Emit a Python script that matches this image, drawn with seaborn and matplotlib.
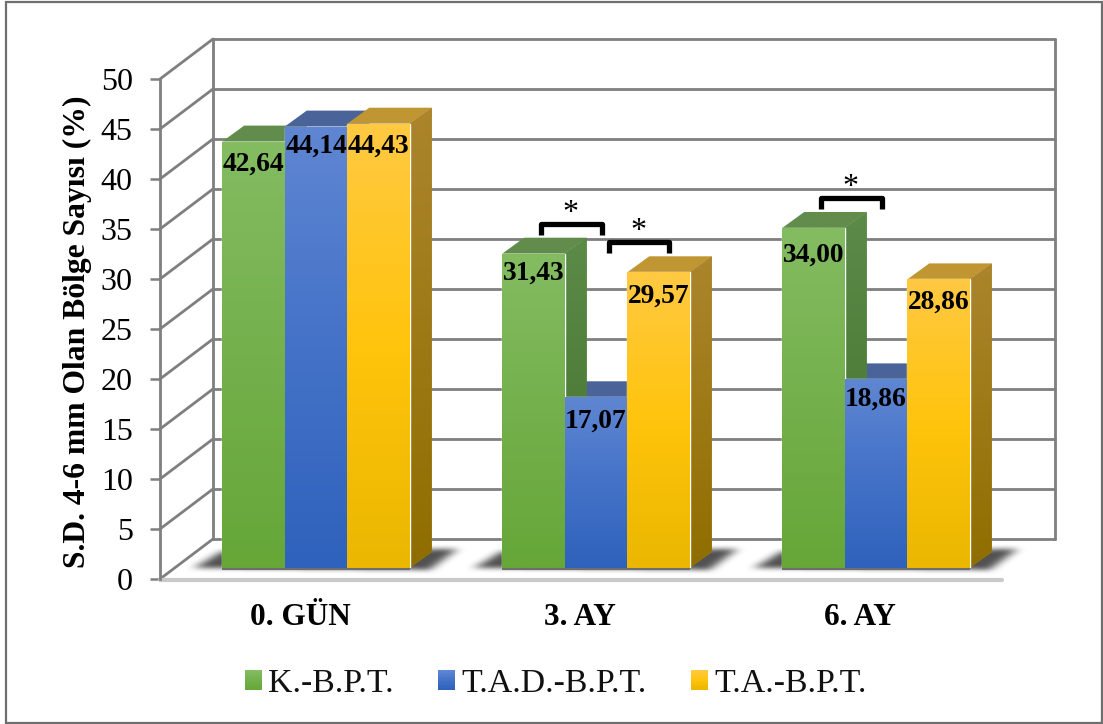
import numpy as np
import pandas as pd
import matplotlib
matplotlib.use("Agg")
import matplotlib.pyplot as plt
from matplotlib.colors import LinearSegmentedColormap
from matplotlib.legend_handler import HandlerBase
from matplotlib.lines import Line2D
from matplotlib.patches import Patch, Polygon, Rectangle
from matplotlib.path import Path
import seaborn as sns

periods = ["0. GÜN", "3. AY", "6. AY"]
groups = ["K.-B.P.T.", "T.A.D.-B.P.T.", "T.A.-B.P.T."]
kbpt_values = [42.64, 31.43, 34.00]
tadbpt_values = [44.14, 17.07, 18.86]
tabpt_values = [44.43, 29.57, 28.86]

front_shades = [["#84BC62", "#74B04C", "#66A738"],
                ["#5F86D2", "#4472C8", "#2F62BC"],
                ["#FFC942", "#FFC40C", "#EBB700"]]
side_shades = [["#5C8A48", "#41702B"], ["#445F96", "#34538E"], ["#AC852C", "#8F6E00"]]
top_shades = ["#618C4B", "#4A6398", "#BF9632"]

W, H = 1103, 724
DEPTH_PX, RISE_PX = 22, 16          # bar depth on screen
WALL_DX, WALL_DY = 53, 40           # floor depth on screen
PX_PER_CAT, PX_PER_UNIT = 280, 10

sns.set_theme(style="white")
plt.rcParams["font.family"] = ["Liberation Serif", "DejaVu Serif"]

fig = plt.figure(figsize=(W / 100, H / 100), dpi=100, facecolor="white")


def axes_box(left, base, right, top):
    return [left / W, 1 - base / H, (right - left) / W, (base - top) / H]


# Box frame, back wall, side wall and value axis
ax_wall = fig.add_axes(axes_box(160, 579, 1000, 79), facecolor="none")
ax_wall.set_xlim(-0.5, 2.5)
ax_wall.set_ylim(0, 50)
dx_cat, dy_val = WALL_DX / PX_PER_CAT, WALL_DY / PX_PER_UNIT
grid_col = "#7F7F7F"
x_back = -0.5 + dx_cat
x_right = x_back + 842 / PX_PER_CAT
for v in range(0, 55, 5):
    ax_wall.plot([x_back, x_right], [v + dy_val] * 2, color=grid_col, lw=2, clip_on=False, zorder=1)
    ax_wall.plot([-0.5, x_back], [v, v + dy_val], color=grid_col, lw=2, clip_on=False, zorder=1)
ax_wall.plot([x_back, x_back], [dy_val, 50 + dy_val], color=grid_col, lw=2, clip_on=False, zorder=1)
ax_wall.plot([x_right, x_right], [dy_val, 50 + dy_val], color=grid_col, lw=2, clip_on=False, zorder=1)
ax_wall.plot([-0.5, -0.5 + 842 / PX_PER_CAT], [-0.1, -0.1], color="#C9C9C9", lw=3, clip_on=False, zorder=1)
for side in ("top", "right", "bottom"):
    ax_wall.spines[side].set_visible(False)
ax_wall.spines["left"].set_color(grid_col)
ax_wall.spines["left"].set_linewidth(2)
ax_wall.set_yticks(np.arange(0, 55, 5))
ax_wall.tick_params(axis="y", left=True, length=7.2, width=1.8, color=grid_col, labelsize=23, pad=12.5, labelcolor="black")
ax_wall.set_xticks(range(len(periods)))
ax_wall.set_xticklabels(periods, fontsize=22.5, fontweight="bold", color="black")
ax_wall.tick_params(axis="x", bottom=False, pad=11)
ax_wall.set_ylabel("S.D. 4-6 mm Olan Bölge Sayısı (%)", fontsize=22.8, fontweight="bold", color="black")
ax_wall.yaxis.set_label_coords((92 - 160) / 840, (579 - 332) / 500)

# Bars stand on a plane a little in front of the back wall
ax_bars = fig.add_axes(axes_box(176, 568, 1016, 68), facecolor="none")
frame = pd.DataFrame({
    "period": periods * 3,
    "group": np.repeat(groups, 3),
    "value": kbpt_values + tadbpt_values + tabpt_values,
})
sns.barplot(data=frame, x="period", y="value", hue="group", hue_order=groups, order=periods,
            palette=[s[1] for s in front_shades], saturation=1, width=0.67, gap=0,
            legend=False, errorbar=None, ax=ax_bars, zorder=5)
ax_bars.set_xlim(-0.5, 2.5)
ax_bars.set_ylim(0, 50)
ax_bars.axis("off")

dx_bar, dy_bar = DEPTH_PX / PX_PER_CAT, RISE_PX / PX_PER_UNIT


def paint(ax, colors, extent, clip, zorder):
    cmap = LinearSegmentedColormap.from_list("face", colors)
    im = ax.imshow(np.linspace(0, 1, 128)[:, None], cmap=cmap, extent=extent, origin="upper",
                   aspect="auto", zorder=zorder, interpolation="bilinear")
    im.set_clip_path(clip)


# Soft floor shadow under every group
def floor_shadow(center):
    left = center - 0.335
    right = center + 0.335
    outline = [(left - 0.1, 0.0), (left + 0.0, 1.7), (right + 0.17, 1.9), (right + 0.07, -0.2)]
    nx, ny = 660, 100
    xs = np.linspace(left - 0.2, right + 0.3, nx)
    ys = np.linspace(4.0, -1.0, ny)
    gx, gy = np.meshgrid(xs, ys)
    mask = Path(outline).contains_points(np.c_[gx.ravel(), gy.ravel()]).reshape(ny, nx).astype(float)
    kx, ky = np.ones(25) / 25, np.ones(11) / 11
    for _ in range(2):
        mask = np.apply_along_axis(lambda r: np.convolve(r, kx, mode="same"), 1, mask)
        mask = np.apply_along_axis(lambda c: np.convolve(c, ky, mode="same"), 0, mask)
    rgba = np.zeros((ny, nx, 4))
    rgba[..., :3] = 0.2
    rgba[..., 3] = mask * 0.85
    ax_bars.imshow(rgba, extent=(xs[0], xs[-1], ys[-1], ys[0]), aspect="auto", zorder=1,
                   clip_on=False, interpolation="bilinear")


for c in range(len(periods)):
    floor_shadow(c)

# Front faces with a vertical gradient, tops and right-hand faces added behind them
bars = [p for p in ax_bars.patches if p.get_height() > 0]
for i, bar in enumerate(bars):
    g = i // len(periods)
    x0, w, v = bar.get_x(), bar.get_width(), bar.get_height()
    x1 = x0 + w
    level = 2 + v / 50
    top = Polygon([(x0, v), (x1, v), (x1 + dx_bar, v + dy_bar), (x0 + dx_bar, v + dy_bar)],
                  closed=True, fc=top_shades[g], ec="none", zorder=level, transform=ax_bars.transData)
    side = Polygon([(x1, 0), (x1 + dx_bar, dy_bar), (x1 + dx_bar, v + dy_bar), (x1, v)],
                   closed=True, fc=side_shades[g][0], ec="none", zorder=level, transform=ax_bars.transData)
    ax_bars.add_patch(top)
    ax_bars.add_patch(side)
    paint(ax_bars, side_shades[g], (x1, x1 + dx_bar, 0, v + dy_bar), side, level)
    paint(ax_bars, front_shades[g], (x0, x1, 0, v), bar, 6)
    ax_bars.plot([x0, x1], [-0.05, -0.05], color="#6E6E6E", lw=1.5, zorder=6.5, solid_capstyle="butt", clip_on=False)

# Value labels printed inside the bars
label_drop_px = [29, 26, 34, 26, 30, 26, 29, 30, 29]
for bar, drop in zip(bars, label_drop_px):
    v = bar.get_height()
    ax_bars.annotate(f"{v:.2f}".replace(".", ","), xy=(bar.get_x() + bar.get_width() / 2, v),
                     xytext=(0, -drop), textcoords="offset pixels", ha="center", va="baseline",
                     fontsize=19.8, fontweight="bold", color="black", zorder=8)
ax_bars.set_xlim(-0.5, 2.5)
ax_bars.set_ylim(0, 50)


# Significance brackets and stars, laid out in figure pixels
def bracket(x0, x1, y_top, y_bot, star_x, star_y):
    xs = np.array([x0, x0, x1, x1]) / W
    ys = 1 - np.array([y_bot, y_top, y_top, y_bot]) / H
    fig.add_artist(Line2D(xs, ys, color="black", lw=3.8, solid_joinstyle="round", solid_capstyle="butt", zorder=10))
    fig.text(star_x / W, 1 - star_y / H, "*", ha="center", va="center", fontsize=23, color="black", zorder=10)


bracket(541, 602, 224, 235, 570, 213)
bracket(609, 669, 242, 253, 638, 231)
bracket(821, 882, 198, 209, 850, 188)


# Legend keys repeat the bar gradient
class GradientKey(HandlerBase):
    def create_artists(self, legend, orig_handle, xdescent, ydescent, width, height, fontsize, trans):
        colors = orig_handle.shades
        cmap = LinearSegmentedColormap.from_list("key", colors)
        out = []
        n = 24
        for k in range(n):
            out.append(Rectangle((-xdescent, -ydescent + height * (1 - (k + 1) / n)), width, height / n + 0.3,
                                 fc=cmap(k / (n - 1)), ec="none", transform=trans))
        return out


handles = []
for shades in front_shades:
    h = Patch()
    h.shades = shades
    handles.append(h)
fig.legend(handles, groups, handler_map={Patch: GradientKey()}, ncols=3, frameon=False,
           loc="center", bbox_to_anchor=(556 / W, 1 - 684 / H), fontsize=24.4,
           handlelength=0.5, handleheight=0.5, handletextpad=0.18, columnspacing=1.31, labelcolor="#111111",
           borderpad=0, borderaxespad=0)

# Outer chart border
fig.add_artist(Rectangle((6 / W, 1 - 723 / H), 1096 / W, 721.5 / H, fill=False, ec="#6E6E6E", lw=1.6,
                         transform=fig.transFigure, zorder=0))

fig.savefig("out.png", dpi=100, facecolor="white")
